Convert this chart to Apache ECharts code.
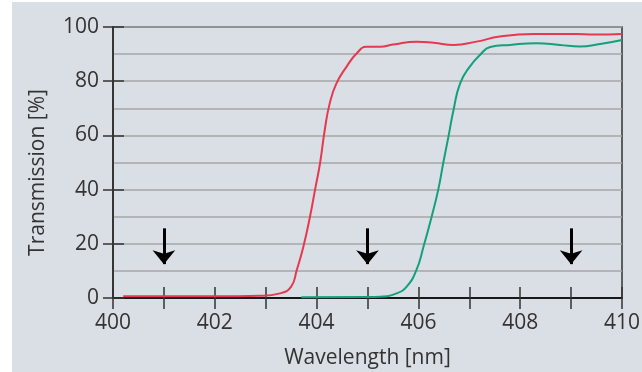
<!DOCTYPE html>
<html>
<head>
<meta charset="utf-8">
<script src="https://cdn.jsdelivr.net/npm/echarts@6/dist/echarts.min.js"></script>
<style>
  html, body { margin: 0; padding: 0; background: #ffffff; }
  #chart { position: absolute; left: 0; top: 0; width: 642px; height: 372px; }
</style>
</head>
<body>
<div id="chart"></div>
<script>
// transmission curves, [wavelength nm, transmission %]
const redCurve = [
    [400.2, 0.6], [401, 0.6], [402, 0.6], [402.9, 0.8], [403.28, 1.7], [403.5, 4.2],
    [403.61, 10.3], [403.74, 18.9], [403.87, 30], [403.97, 40], [404.07, 50], [404.16, 62],
    [404.26, 72], [404.39, 79.2], [404.59, 85.4], [404.79, 90.3], [404.98, 92.7], [405.25, 92.7],
    [405.5, 93.5], [405.97, 94.6], [406.3, 94.2], [406.69, 93.4], [407.14, 94.6], [407.6, 96.5],
    [408.26, 97.4], [409.1, 97.4], [409.44, 97.2], [410, 97.4]
];
const greenCurve = [
    [403.7, 0.3], [405, 0.4], [405.25, 0.5], [405.57, 1.7], [405.77, 4.2], [405.96, 10.3],
    [406.1, 18.9], [406.26, 30], [406.39, 40], [406.49, 50], [406.59, 59.5], [406.69, 69.4],
    [406.82, 79.2], [407.01, 85.4], [407.21, 89.7], [407.41, 92.6], [407.8, 93.4], [408.32, 94],
    [408.78, 93.4], [409.17, 92.8], [409.57, 93.7], [410, 95.2]
];
// arrow markers (wavelength) and their vertical extent in %
const arrowX = [401, 405, 409];
const arrowTop = 25.7;
const arrowTip = 12.5;

const font = 'Open Sans';
const textColor = '#333333';

let chart = echarts.init(document.getElementById('chart'));

// shared axis pieces
const xBase = {
    type: 'value', min: 400, max: 410, interval: 1, position: 'bottom',
    axisLine: { show: true, onZero: false, lineStyle: { color: '#111', width: 1.5 } },
    splitLine: { show: false }
};
const yBase = {
    type: 'value', min: 0, max: 100, interval: 20, position: 'left',
    axisLine: { show: true, lineStyle: { color: '#333', width: 1.5 } }
};

const option = {
    backgroundColor: 'transparent',
    animation: false,
    graphic: [{
        type: 'rect', z: -100, silent: true,
        shape: { x: 12, y: 2, width: 630, height: 370 },
        style: { fill: '#d9dfe5' }
    }],
    grid: {
        left: 113, right: 20, top: 27, bottom: 74,
        outerBoundsMode: 'none', containLabel: false,
        show: true, borderColor: '#333', borderWidth: 1.5
    },
    xAxis: [
        Object.assign({}, xBase, {
            name: 'Wavelength [nm]', nameLocation: 'middle', nameGap: 50,
            nameTextStyle: { fontFamily: font, fontSize: 21, color: textColor },
            axisTick: { show: true, inside: false, length: 11, lineStyle: { color: '#333', width: 1.5 } },
            axisLabel: {
                margin: 15, fontFamily: font, fontSize: 21, color: textColor,
                formatter: function (v) { return v % 2 === 0 ? String(v) : ''; }
            }
        }),
        Object.assign({}, xBase, {
            axisTick: { show: true, inside: true, length: 11, lineStyle: { color: '#333', width: 1.5 } },
            axisLabel: { show: false }
        })
    ],
    yAxis: [
        Object.assign({}, yBase, {
            name: 'Transmission [%]', nameLocation: 'middle', nameGap: 64,
            nameTextStyle: { fontFamily: font, fontSize: 21, color: textColor, padding: [0, 20, 0, 0] },
            axisTick: { show: true, inside: false, length: 10, lineStyle: { color: '#333', width: 1.5 } },
            axisLabel: { margin: 14, fontFamily: font, fontSize: 21, color: textColor },
            splitLine: { show: true, lineStyle: { color: '#a6a6a6', width: 1.5 } },
            minorTick: { show: false, splitNumber: 2 },
            minorSplitLine: { show: true, lineStyle: { color: '#a6a6a6', width: 1.5 } }
        }),
        Object.assign({}, yBase, {
            axisTick: { show: true, inside: true, length: 11, lineStyle: { color: '#333', width: 1.5 } },
            axisLabel: { show: false },
            splitLine: { show: false }
        })
    ],
    series: [
        {
            type: 'line', data: redCurve, smooth: 0.5, symbol: 'none',
            lineStyle: { color: '#e6384f', width: 2 }, z: 3
        },
        {
            type: 'line', data: greenCurve, smooth: 0.5, symbol: 'none',
            lineStyle: { color: '#13a07b', width: 2 }, z: 3
        },
        {
            type: 'line', data: [], symbol: 'none',
            markLine: {
                silent: true, animation: false,
                symbol: ['none', 'arrow'], symbolSize: [17, 14],
                label: { show: false },
                lineStyle: { color: '#000', width: 3, type: 'solid' },
                data: arrowX.map(function (x) {
                    return [{ coord: [x, arrowTop] }, { coord: [x, arrowTip] }];
                })
            }
        }
    ]
};

chart.setOption(option);
</script>
</body>
</html>
